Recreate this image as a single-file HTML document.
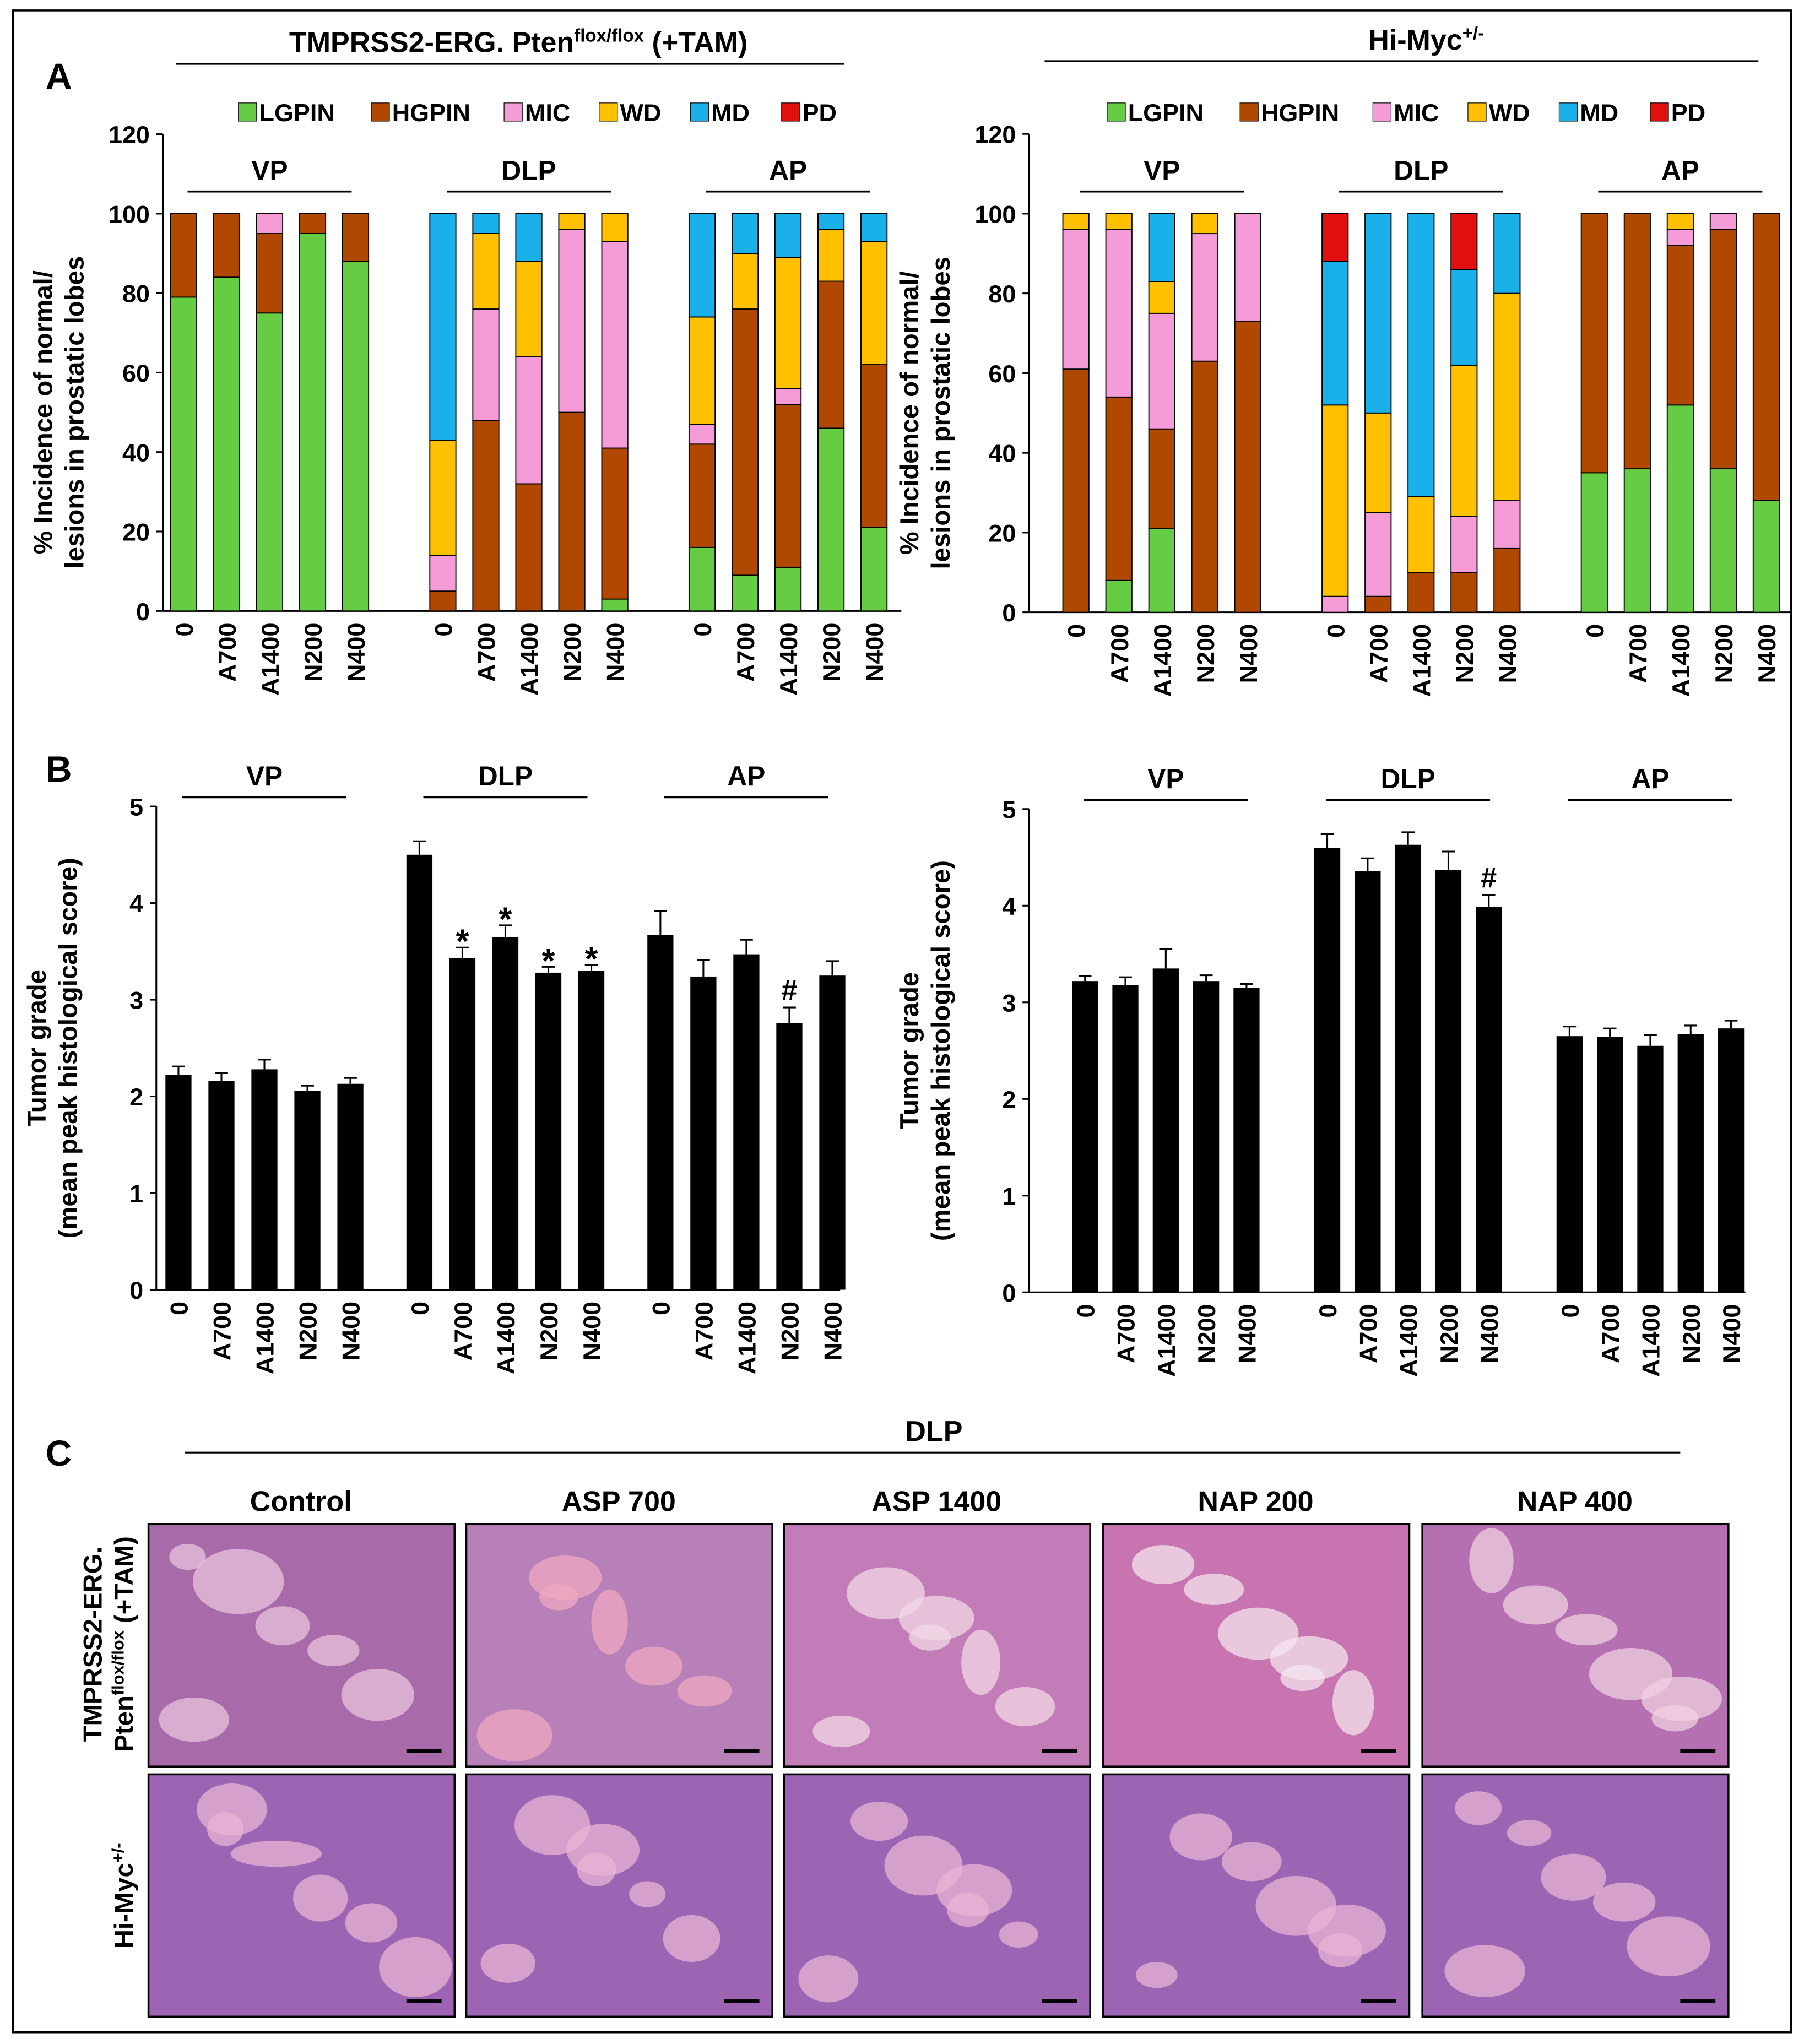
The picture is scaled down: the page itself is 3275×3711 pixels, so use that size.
<!DOCTYPE html>
<html><head><meta charset="utf-8"><style>
html,body{margin:0;padding:0;background:#fff}
svg{display:block}
text{font-family:"Liberation Sans",sans-serif;font-weight:bold;fill:#000}
</style></head><body>
<svg id="fig" width="3275" height="3711" viewBox="0 0 1385 1569" preserveAspectRatio="none" xmlns="http://www.w3.org/2000/svg">
<rect x="10" y="8" width="1365" height="1552" fill="#fff" stroke="#000" stroke-width="1.5"/>
<text x="35" y="68" font-size="28">A</text>
<text x="35" y="600" font-size="28">B</text>
<text x="35" y="1125" font-size="28">C</text>
<text x="398" y="40" font-size="22" text-anchor="middle">TMPRSS2-ERG. Pten<tspan font-size="14" dy="-8">flox/flox</tspan><tspan dy="8"> (+TAM)</tspan></text>
<line x1="135" y1="49" x2="648" y2="49" stroke="#000" stroke-width="1.5"/>
<text x="1095" y="38" font-size="22" text-anchor="middle">Hi-Myc<tspan font-size="14" dy="-8">+/-</tspan></text>
<line x1="802" y1="47" x2="1350" y2="47" stroke="#000" stroke-width="1.5"/>
<g id="charts"></g>
<g id="histo"></g>
</svg>
<script>
const NS="http://www.w3.org/2000/svg";
const cats=["0","A700","A1400","N200","N400"];
const lobes=["VP","DLP","AP"];
const seriesNames=["LGPIN","HGPIN","MIC","WD","MD","PD"];
const seriesColors=["#66cc44","#b04800","#f59cd8","#ffc000","#1ab0ea","#e01010"];
// Panel A left (segment heights, 15 bars: VP x5, DLP x5, AP x5)
const aL_LG=[79,84,75,95,88,0,0,0,0,3,16,9,11,46,21];
const aL_HG=[21,16,20,5,12,5,48,32,50,38,26,67,41,37,41];
const aL_MIC=[0,0,5,0,0,9,28,32,46,52,5,0,4,0,0];
const aL_WD=[0,0,0,0,0,29,19,24,4,7,27,14,33,13,31];
const aL_MD=[0,0,0,0,0,57,5,12,0,0,26,10,11,4,7];
const aL_PD=[0,0,0,0,0,0,0,0,0,0,0,0,0,0,0];
// Panel A right
const aR_LG=[0,8,21,0,0,0,0,0,0,0,35,36,52,36,28];
const aR_HG=[61,46,25,63,73,0,4,10,10,16,65,64,40,60,72];
const aR_MIC=[35,42,29,32,27,4,21,0,14,12,0,0,4,4,0];
const aR_WD=[4,4,8,5,0,48,25,19,38,52,0,0,4,0,0];
const aR_MD=[0,0,17,0,0,36,50,71,24,20,0,0,0,0,0];
const aR_PD=[0,0,0,0,0,12,0,0,14,0,0,0,0,0,0];
const aTicks=[0,20,40,60,80,100,120];
// Panel B
const bL_mean=[2.22,2.16,2.28,2.06,2.13,4.5,3.43,3.65,3.28,3.3,3.67,3.24,3.47,2.76,3.25];
const bL_err=[0.09,0.08,0.1,0.05,0.06,0.14,0.11,0.12,0.06,0.06,0.25,0.17,0.15,0.16,0.15];
const bL_mark=["","","","","","","*","*","*","*","","","","#",""];
const bR_mean=[3.22,3.18,3.35,3.22,3.15,4.6,4.36,4.63,4.37,3.99,2.65,2.64,2.55,2.67,2.73];
const bR_err=[0.05,0.08,0.2,0.06,0.04,0.14,0.13,0.13,0.19,0.12,0.1,0.09,0.11,0.09,0.08];
const bR_mark=["","","","","","","","","","#","","","","",""];
const bTicks=[0,1,2,3,4,5];

const root=document.getElementById('charts');
function el(tag,attrs,parent,txt){const e=document.createElementNS(NS,tag);for(const k in attrs)e.setAttribute(k,attrs[k]);if(txt!==undefined)e.textContent=txt;(parent||root).appendChild(e);return e;}

function axes(g,cfg,ticks,fmt){
  const ax=el('line',{x1:cfg.ax,y1:cfg.y(ticks[ticks.length-1]),x2:cfg.ax,y2:cfg.y(0),stroke:'#000','stroke-width':1.3},g);
  
  
  const bx=el('line',{x1:cfg.ax,y1:cfg.y(0),x2:cfg.xEnd,y2:cfg.y(0),stroke:'#000','stroke-width':1.3},g);
  
  
  ticks.forEach(t=>{
    el('line',{x1:cfg.ax-5,y1:cfg.y(t),x2:cfg.ax,y2:cfg.y(t),stroke:'#000','stroke-width':1.3},g);
    const tl=el('text',{x:cfg.ax-10,y:cfg.y(t)+7,'font-size':19,'text-anchor':'end'},g,fmt(t));
    
    
  });
}
function catLabels(g,cfg){
  for(let i=0;i<15;i++){
    const cx=cfg.x(i);
    const t=el('text',{transform:`translate(${cx+7},${cfg.y(0)+9}) rotate(-90)`,'font-size':19,'text-anchor':'end'},g,cats[i%5]);
    
    
  }
}
function lobeHeads(g,cfg,ly){
  for(let k=0;k<3;k++){
    const c=(cfg.x(k*5)+cfg.x(k*5+4))/2;
    el('line',{x1:c-63,y1:ly,x2:c+63,y2:ly,stroke:'#000','stroke-width':1.5},g);
    const t=el('text',{x:c,y:ly-9,'font-size':21,'text-anchor':'middle'},g,lobes[k]);
    
    
  }
}
function legend(g,x0,y){
  const w=[102,102,73,70,70,45];let x=x0;
  seriesNames.forEach((n,i)=>{
    el('rect',{x:x,y:y-14,width:14,height:14,fill:seriesColors[i],stroke:'#000','stroke-width':0.5},g);
    const t=el('text',{x:x+16,y:y,'font-size':19},g,n);
    
    
    x+=w[i];
  });
}
function stacked(name,cfg,series,legX){
  const g=el('g',{});
  
  
  axes(g,cfg,aTicks,t=>t);
  for(let i=0;i<15;i++){
    let acc=0;
    series.forEach((s,si)=>{
      const v=s[i]; if(!v) return;
      const r=el('rect',{x:cfg.x(i)-10,y:cfg.y(acc+v),width:20,height:cfg.y(acc)-cfg.y(acc+v),fill:seriesColors[si],stroke:'#000','stroke-width':0.8},g);
      
      
      acc+=v;
    });
  }
  catLabels(g,cfg);lobeHeads(g,cfg,147);legend(g,legX,93);
  el('text',{transform:`translate(${cfg.ax-85},${cfg.y(50)}) rotate(-90)`,'font-size':20,'text-anchor':'middle'},g,'% Incidence of normal/');
  el('text',{transform:`translate(${cfg.ax-61},${cfg.y(50)}) rotate(-90)`,'font-size':20,'text-anchor':'middle'},g,'lesions in prostatic lobes');
}
function barErr(name,cfg,mean,err,mark){
  const g=el('g',{});
  
  
  axes(g,cfg,bTicks,t=>t);
  for(let i=0;i<15;i++){
    const x=cfg.x(i);
    const r=el('rect',{x:x-10,y:cfg.y(mean[i]),width:20,height:cfg.y(0)-cfg.y(mean[i]),fill:'#000'},g);
    
    
    const yt=cfg.y(mean[i]+err[i]);
    el('line',{x1:x,y1:cfg.y(mean[i]),x2:x,y2:yt,stroke:'#000','stroke-width':1.3},g);
    el('line',{x1:x-5,y1:yt,x2:x+5,y2:yt,stroke:'#000','stroke-width':1.3},g);
    if(mark[i]){const m=el('text',{x:x,y:yt-(mark[i]=='*'?-4:6),'font-size':mark[i]=='*'?26:22,'font-weight':'normal','text-anchor':'middle'},g,mark[i]);
      
      }
  }
  catLabels(g,cfg);lobeHeads(g,cfg,cfg.ly);
  el('text',{transform:`translate(${cfg.ax-85},${cfg.y(2.5)}) rotate(-90)`,'font-size':20,'text-anchor':'middle'},g,'Tumor grade');
  el('text',{transform:`translate(${cfg.ax-61},${cfg.y(2.5)}) rotate(-90)`,'font-size':20,'text-anchor':'middle'},g,'(mean peak histological score)');
}
stacked('incidence-chart-left',{ax:125,xEnd:692,x:i=>141+Math.floor(i/5)*199+(i%5)*33,y:v=>469-v*3.05},[aL_LG,aL_HG,aL_MIC,aL_WD,aL_MD,aL_PD],183);
stacked('incidence-chart-right',{ax:790,xEnd:1375,x:i=>826+Math.floor(i/5)*199+(i%5)*33,y:v=>470-v*3.06},[aR_LG,aR_HG,aR_MIC,aR_WD,aR_MD,aR_PD],850);
barErr('grade-chart-left',{ax:120,xEnd:645,ly:612,x:i=>137+Math.floor(i/5)*185+(i%5)*33,y:v=>990-v*74.2},bL_mean,bL_err,bL_mark);
barErr('grade-chart-right',{ax:790,xEnd:1340,ly:614,x:i=>833+Math.floor(i/5)*186+(i%5)*31,y:v=>992-v*74.2},bR_mean,bR_err,bR_mark);

// Panel C
const h=document.getElementById('histo');
const colTitles=["Control","ASP 700","ASP 1400","NAP 200","NAP 400"];
let t=el('text',{x:717,y:1106,'font-size':22,'text-anchor':'middle'},h,'DLP');


el('line',{x1:142,y1:1115,x2:1290,y2:1115,stroke:'#000','stroke-width':1.3},h);
el('text',{transform:'translate(78,1262) rotate(-90)','font-size':20,'text-anchor':'middle'},h,'TMPRSS2-ERG.');
const rl=el('text',{transform:'translate(102,1262) rotate(-90)','font-size':20,'text-anchor':'middle'},h,'Pten');
const ts=el('tspan',{'font-size':13,dy:-7},rl,'flox/flox');el('tspan',{dy:7},rl,' (+TAM)');
const r2=el('text',{transform:'translate(102,1455) rotate(-90)','font-size':20,'text-anchor':'middle'},h,'Hi-Myc');
el('tspan',{'font-size':13,dy:-7},r2,'+/-');
const colX=[114,358,602,847,1092];
const base=[["#a86aa8","#e8c4dc"],["#b880b8","#f0a8c0"],["#c27cb8","#f2d8e4"],["#c874b0","#f4e4ee"],["#b470b0","#f0d0e0"]];
for(let c=0;c<5;c++){
  const ct=el('text',{x:colX[c]+117,y:1160,'font-size':22,'text-anchor':'middle'},h,colTitles[c]);
  
  
  for(let r=0;r<2;r++){
    const y=r?1362:1170;
    const img=el('rect',{x:colX[c],y:y,width:235,height:186,fill:r?"#9e64b4":base[c][0],stroke:'#000','stroke-width':1.5},h);
    
    
    const light=r?"#e8b4d4":base[c][1];
    for(let k=0;k<6;k++){
      const ex=colX[c]+30+((k*73+c*41+r*29)%180), ey=y+25+((k*53+c*31+r*17)%140);
      el('ellipse',{cx:ex,cy:ey,rx:14+(k*7+c)%22,ry:10+(k*5+r*3)%18,fill:light,opacity:0.75},h);
    }
    el('line',{x1:colX[c]+198,y1:y+174,x2:colX[c]+225,y2:y+174,stroke:'#000','stroke-width':3},h);
  }
}
</script>
</body></html>
